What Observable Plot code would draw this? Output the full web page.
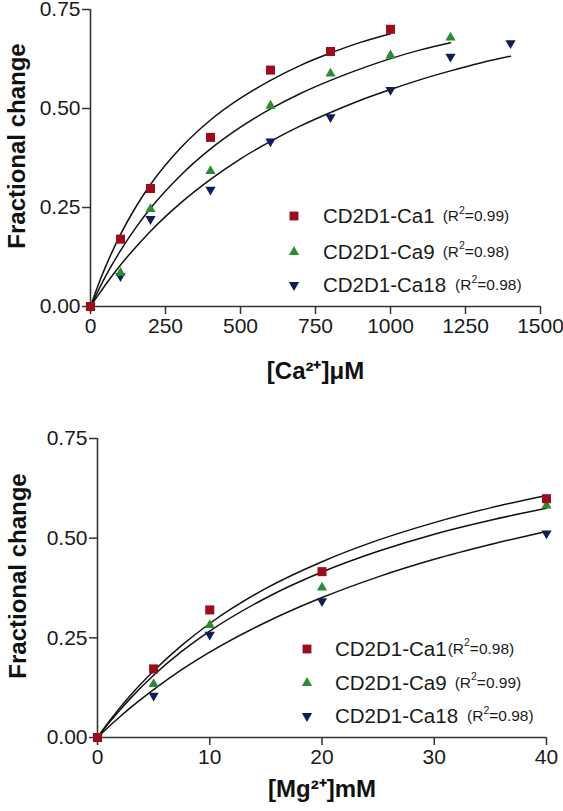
<!DOCTYPE html>
<html>
<head>
<meta charset="utf-8">
<script src="https://cdn.jsdelivr.net/npm/d3@7"></script>
<script src="https://cdn.jsdelivr.net/npm/@observablehq/plot@0.6"></script>
<style>
  html, body { margin: 0; padding: 0; background: #fff; }
  #wrap { position: relative; width: 563px; height: 811px; overflow: hidden;
          font-family: "Liberation Sans", Arial, sans-serif; color: #1a1a1a; }
  .panel { position: absolute; left: 0; }
  .lrow { position: absolute; display: flex; align-items: center; white-space: nowrap; height: 28px; }
  .lname { font-size: 20.5px; line-height: 28px; }
  .lr2 { font-size: 15.5px; line-height: 28px; }
  .lr2 sup { font-size: 10.5px; line-height: 0; position: relative; top: -1px; }
</style>
</head>
<body>
<div id="wrap"></div>
<script>
// ---------------- data ----------------
const seriesNames = ["CD2D1-Ca1", "CD2D1-Ca9", "CD2D1-Ca18"];
const seriesColors = ["#9c0c1f", "#2d8a35", "#111c58"];

// [Ca2+] panel (µM)
const caX1  = [0, 100, 200, 400, 600, 800, 1000];
const caY1  = [0, 0.170, 0.298, 0.427, 0.597, 0.644, 0.700];
const caX9  = [0, 100, 200, 400, 600, 800, 1000, 1200];
const caY9  = [0, 0.085, 0.246, 0.342, 0.507, 0.588, 0.634, 0.679];
const caX18 = [0, 100, 200, 400, 600, 800, 1000, 1200, 1400];
const caY18 = [0, 0.077, 0.221, 0.295, 0.417, 0.478, 0.547, 0.631, 0.665];
const caFitX  = [0, 25, 50, 100, 150, 200, 300, 400, 500, 600, 700, 800, 900, 1000, 1100, 1200, 1300, 1400];
const caFit1  = [0, 0.053, 0.100, 0.182, 0.250, 0.308, 0.400, 0.471, 0.526, 0.571, 0.609, 0.640, 0.667, 0.689];
const caFit9  = [0, 0.039, 0.076, 0.141, 0.198, 0.248, 0.331, 0.398, 0.453, 0.499, 0.538, 0.571, 0.600, 0.626, 0.648, 0.666];
const caFit18 = [0, 0.028, 0.055, 0.105, 0.149, 0.190, 0.261, 0.321, 0.373, 0.417, 0.456, 0.490, 0.521, 0.548, 0.573, 0.595, 0.615, 0.632];
const caTicks = [0, 250, 500, 750, 1000, 1250, 1500];
const caR2 = ["0.99", "0.98", "0.98"];

// [Mg2+] panel (mM)
const mgX   = [0, 5, 10, 20, 40];
const mgY1  = [0, 0.172, 0.320, 0.416, 0.599];
const mgY9  = [0, 0.134, 0.282, 0.376, 0.582];
const mgY18 = [0, 0.105, 0.258, 0.342, 0.512];
const mgFitX  = [0, 1, 2, 3, 5, 7.5, 10, 15, 20, 25, 30, 35, 40];
const mgFit1  = [0, 0.039, 0.075, 0.108, 0.167, 0.231, 0.286, 0.374, 0.441, 0.495, 0.539, 0.576, 0.607];
const mgFit9  = [0, 0.036, 0.069, 0.100, 0.156, 0.216, 0.267, 0.350, 0.415, 0.467, 0.510, 0.545, 0.575];
const mgFit18 = [0, 0.027, 0.052, 0.076, 0.120, 0.170, 0.214, 0.289, 0.351, 0.403, 0.447, 0.484, 0.517];
const mgTicks = [0, 10, 20, 30, 40];
const mgR2 = ["0.98", "0.99", "0.98"];

const yTicks = [0, 0.25, 0.50, 0.75];
const yLabel = "Fractional change";
const caLabel = "[Ca\u00B2\u207A]\u03BCM";
const mgLabel = "[Mg\u00B2\u207A]mM";

// ---------------- helpers ----------------
const zip = (xs, ys, s) => ys.map((y, i) => ({x: xs[i], y, s}));
const FONT = '"Liberation Sans", Arial, sans-serif';
const AX = "#333333";

function makePanel(cfg) {
  const pts = [zip(cfg.x18, cfg.y18, 2), zip(cfg.x9, cfg.y9, 1), zip(cfg.x1, cfg.y1, 0)];
  const fits = [zip(cfg.fitX, cfg.fit18, 2), zip(cfg.fitX, cfg.fit9, 1), zip(cfg.fitX, cfg.fit1, 0)];
  const symbols = ["square", "triangle", "triangle"];
  const radii = [5.1, 3.8, 3.8];
  const rot = [0, 0, 180];
  const marks = [
    Plot.axisX({ticks: cfg.ticks, tickFormat: d => String(d), tickSize: 8, tickPadding: 4,
                fontSize: 21, label: null, stroke: AX, strokeWidth: 1.5, fill: "#1a1a1a"}),
    Plot.axisY({ticks: yTicks, tickFormat: d3.format(".2f"), tickSize: 8, tickPadding: 2,
                fontSize: 21, label: null, stroke: AX, strokeWidth: 1.5, fill: "#1a1a1a"}),
    Plot.ruleX([0], {stroke: AX, strokeWidth: 1.6}),
    Plot.ruleY([0], {stroke: AX, strokeWidth: 1.6})
  ];
  fits.forEach(f => marks.push(Plot.line(f, {x: "x", y: "y", curve: "monotone-x", stroke: "#111", strokeWidth: 1.5})));
  pts.forEach(p => {
    const s = p[0].s;
    marks.push(Plot.dot(p, {x: "x", y: "y", symbol: symbols[s], r: radii[s], rotate: rot[s],
                            fill: seriesColors[s], stroke: "none"}));
  });
  marks.push(Plot.text([yLabel], {text: d => d, frameAnchor: "left", textAnchor: "middle", rotate: -90, lineAnchor: "top",
                                 dx: cfg.yLabelDx, dy: -12, fontSize: 24, fontWeight: "bold", fill: "#111"}));
  marks.push(Plot.text([cfg.xLabel], {text: d => d, frameAnchor: "bottom", textAnchor: "middle", lineAnchor: "middle",
                                 dy: cfg.xLabelDy, fontSize: 24, fontWeight: "bold", fill: "#111"}));
  return Plot.plot({
    width: 563, height: cfg.height,
    marginLeft: cfg.ml, marginRight: cfg.mr, marginTop: cfg.mt, marginBottom: cfg.mb,
    style: {fontFamily: FONT, fontSize: "20px", background: "transparent", overflow: "visible", color: "#1a1a1a"},
    x: {domain: cfg.domain},
    y: {domain: [0, 0.75]},
    marks
  });
}

function addLegend(wrap, markerX, textX, rowYs, r2s, gaps) {
  seriesNames.forEach((name, i) => {
    const row = document.createElement("div");
    row.className = "lrow";
    row.style.left = (markerX - 6) + "px";
    row.style.top = (rowYs[i] - 14) + "px";
    const svg = d3.create("svg").attr("width", 12).attr("height", 12).style("flex", "none");
    const sym = i === 0 ? d3.symbolSquare : d3.symbolTriangle;
    const size = i === 0 ? 5 * 5 * Math.PI : 3.8 * 3.8 * Math.PI;
    svg.append("path").attr("d", d3.symbol(sym, size)())
      .attr("transform", `translate(6,6) rotate(${i === 2 ? 180 : 0})`)
      .attr("fill", seriesColors[i]);
    row.appendChild(svg.node());
    const n = document.createElement("span");
    n.className = "lname";
    n.textContent = name;
    n.style.marginLeft = (textX - markerX - 6) + "px";
    row.appendChild(n);
    const r = document.createElement("span");
    r.className = "lr2";
    r.style.marginLeft = gaps[i] + "px";
    r.innerHTML = "(R<sup>2</sup>=" + r2s[i] + ")";
    row.appendChild(r);
    wrap.appendChild(row);
  });
}

// ---------------- build ----------------
const wrapEl = document.getElementById("wrap");

const topPlot = makePanel({
  height: 390, ml: 90, mr: 23, mt: 9, mb: 84,
  domain: [0, 1500], ticks: caTicks,
  x1: caX1, y1: caY1, x9: caX9, y9: caY9, x18: caX18, y18: caY18,
  fitX: caFitX, fit1: caFit1, fit9: caFit9, fit18: caFit18,
  xLabel: caLabel, xLabelDy: 65, yLabelDx: -83
});
topPlot.classList.add("panel");
topPlot.style.top = "0px";
wrapEl.appendChild(topPlot);

const bottomPlot = makePanel({
  height: 421, ml: 97, mr: 17, mt: 48, mb: 74,
  domain: [0, 40], ticks: mgTicks,
  x1: mgX, y1: mgY1, x9: mgX, y9: mgY9, x18: mgX, y18: mgY18,
  fitX: mgFitX, fit1: mgFit1, fit9: mgFit9, fit18: mgFit18,
  xLabel: mgLabel, xLabelDy: 52, yLabelDx: -89
});
bottomPlot.classList.add("panel");
bottomPlot.style.top = "390px";
wrapEl.appendChild(bottomPlot);

addLegend(wrapEl, 294, 323, [216, 251.5, 285], caR2, [8, 8, 9]);
addLegend(wrapEl, 307, 335, [648.5, 682.5, 716], mgR2, [1, 8, 9]);
</script>
</body>
</html>
